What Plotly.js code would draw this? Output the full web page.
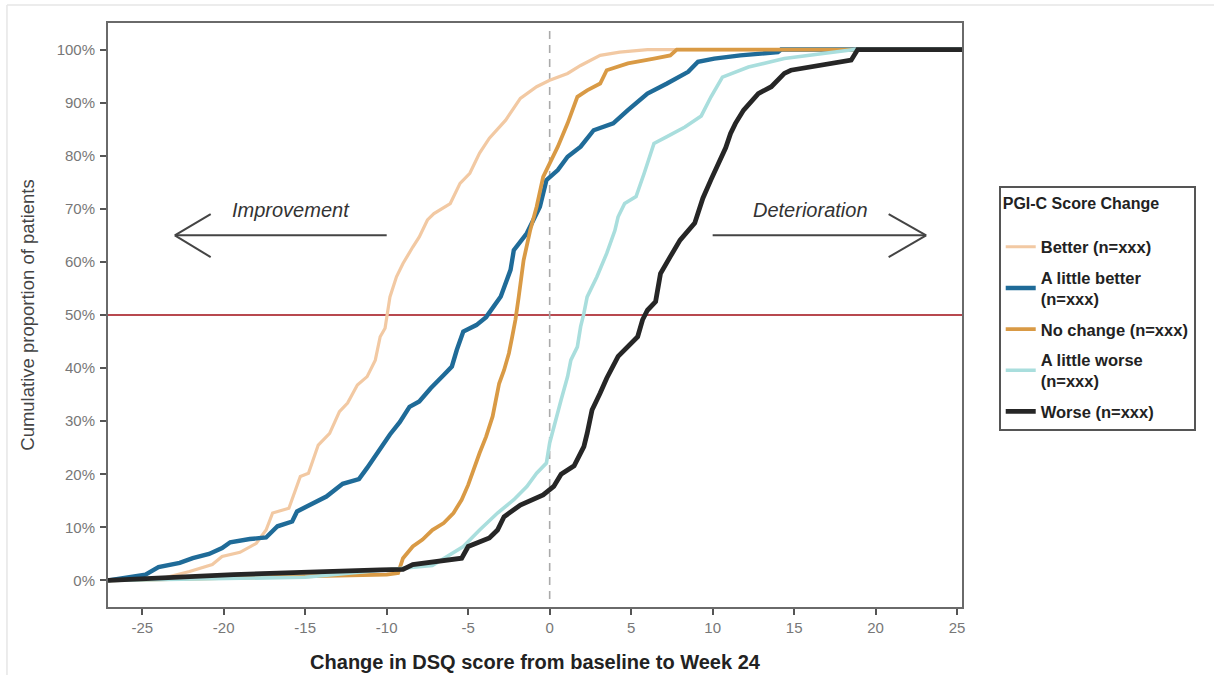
<!DOCTYPE html>
<html><head><meta charset="utf-8">
<script src="https://cdn.plot.ly/plotly-3.0.1.min.js"></script>
<style>html,body{margin:0;padding:0;background:#fff;} #chart{width:1214px;height:675px;}</style>
</head><body><div id="chart"></div>
<script>
// ---- data ----
const seriesNames = ["Better (n=xxx)", "A little better<br>(n=xxx)", "No change (n=xxx)", "A little worse<br>(n=xxx)", "Worse (n=xxx)"];

const betterX = [-27.1, -23.5, -22.1, -20.7, -20.1, -19.0, -18.0, -17.4, -17.0, -16.0, -15.3, -14.8, -14.2, -13.5, -12.9, -12.4, -11.8, -11.2, -10.7, -10.4, -10.1, -9.8, -9.4, -9.0, -8.4, -8.0, -7.5, -7.1, -6.1, -5.5, -4.9, -4.3, -3.7, -2.7, -1.8, -0.8, 0.0, 1.1, 1.9, 3.1, 4.3, 6.0, 25.3];
const betterY = [0, 0.6, 1.7, 3.0, 4.5, 5.3, 7.0, 9.5, 12.7, 13.6, 19.6, 20.2, 25.5, 27.7, 31.8, 33.4, 36.8, 38.4, 41.5, 45.9, 47.5, 53.4, 57.2, 59.7, 62.8, 64.7, 67.9, 69.1, 71.0, 74.8, 76.7, 80.5, 83.3, 86.7, 90.8, 93.0, 94.2, 95.5, 97.0, 98.9, 99.5, 100, 100];

const littleBetterX = [-27.1, -24.8, -24.0, -22.7, -21.9, -20.9, -20.1, -19.6, -18.4, -17.4, -16.7, -15.8, -15.5, -14.5, -13.7, -12.7, -11.7, -11.2, -10.6, -9.8, -9.2, -8.6, -8.0, -7.3, -6.5, -6.0, -5.7, -5.3, -4.5, -3.9, -3.0, -2.4, -2.2, -1.4, -1.0, -0.6, -0.2, 0.5, 1.1, 1.9, 2.7, 3.9, 4.8, 6.0, 7.2, 8.5, 9.1, 10.1, 11.7, 14.0, 14.2, 25.3];
const littleBetterY = [0, 1.1, 2.5, 3.3, 4.2, 5.0, 6.1, 7.2, 7.8, 8.1, 10.2, 11.1, 13.0, 14.6, 15.8, 18.2, 19.1, 21.2, 24.0, 27.5, 29.8, 32.7, 33.7, 36.2, 38.7, 40.3, 43.4, 46.9, 48.1, 49.6, 53.5, 58.5, 62.2, 65.4, 67.9, 70.4, 75.4, 77.3, 79.8, 81.7, 84.8, 86.1, 88.6, 91.7, 93.6, 95.8, 97.7, 98.3, 98.9, 99.5, 100, 100];

const noChangeX = [-27.1, -20.0, -10.0, -9.3, -9.0, -8.4, -7.8, -7.2, -6.5, -5.9, -5.4, -5.0, -4.7, -4.3, -3.9, -3.5, -3.3, -3.1, -2.8, -2.5, -2.3, -2.1, -1.9, -1.6, -1.2, -0.8, -0.4, 0.0, 0.5, 1.1, 1.7, 2.3, 3.1, 3.5, 4.8, 6.4, 7.4, 7.8, 25.3];
const noChangeY = [0, 0.4, 1.1, 1.4, 4.2, 6.4, 7.7, 9.5, 10.8, 12.7, 15.2, 18.0, 20.8, 24.0, 27.1, 30.9, 34.0, 37.1, 39.6, 42.8, 45.9, 49.1, 53.4, 60.3, 65.9, 70.4, 76.0, 78.5, 81.7, 86.1, 91.1, 92.3, 93.6, 96.1, 97.4, 98.3, 98.9, 100, 100];

const littleWorseX = [-27.1, -15.0, -7.2, -5.3, -4.3, -3.2, -2.2, -1.4, -0.8, -0.2, 0.0, 0.3, 0.7, 1.1, 1.3, 1.7, 1.9, 2.1, 2.3, 2.9, 3.5, 4.0, 4.2, 4.6, 5.3, 5.8, 6.4, 7.2, 8.3, 9.3, 9.9, 10.6, 12.2, 14.4, 16.9, 18.7, 25.3];
const littleWorseY = [0, 0.6, 2.8, 6.4, 9.5, 12.7, 15.2, 17.7, 20.2, 22.1, 25.9, 29.6, 34.0, 38.4, 41.5, 44.0, 47.8, 50.3, 53.4, 57.2, 61.6, 65.9, 68.5, 71.0, 72.3, 76.7, 82.3, 83.6, 85.4, 87.5, 91.1, 94.8, 96.7, 98.3, 99.2, 100, 100];

const worseX = [-27.1, -19.4, -10.4, -9.0, -8.4, -5.4, -5.0, -3.7, -3.2, -2.8, -1.8, -0.4, 0.25, 0.7, 1.5, 2.1, 2.3, 2.6, 3.1, 3.5, 4.2, 4.8, 5.4, 5.7, 6.0, 6.5, 6.8, 7.4, 8.0, 8.9, 9.4, 9.9, 10.4, 10.8, 11.1, 11.4, 11.9, 12.8, 13.6, 14.4, 14.8, 18.5, 18.9, 25.3];
const worseY = [0, 1.1, 2.0, 2.1, 3.0, 4.2, 6.4, 8.0, 9.5, 12.0, 14.2, 16.1, 17.7, 20.0, 21.6, 25.2, 27.7, 32.1, 35.3, 38.1, 42.2, 44.0, 45.9, 49.1, 50.9, 52.5, 57.8, 61.0, 64.1, 67.3, 72.0, 75.5, 79.0, 81.5, 84.2, 86.1, 88.6, 91.7, 93.0, 95.5, 96.1, 98.0, 100, 100];

const xTickVals = [-25, -20, -15, -10, -5, 0, 5, 10, 15, 20, 25];
const xTickText = ["-25", "-20", "-15", "-10", "-5", "0", "5", "10", "15", "20", "25"];
const yTickVals = [0, 10, 20, 30, 40, 50, 60, 70, 80, 90, 100];
const yTickText = ["0%", "10%", "20%", "30%", "40%", "50%", "60%", "70%", "80%", "90%", "100%"];

// ---- styles ----
const FONT = "'Liberation Sans', Arial, sans-serif";
const colors = ["#f2c9a3", "#1f6b98", "#d99a45", "#a9dedd", "#262626"];
const widths = [3.2, 4.4, 3.8, 3.6, 4.8];
const xs = [betterX, littleBetterX, noChangeX, littleWorseX, worseX];
const ys = [betterY, littleBetterY, noChangeY, littleWorseY, worseY];

const traces = seriesNames.map((n, i) => ({
  type: "scatter", mode: "lines", name: n, x: xs[i], y: ys[i],
  legendgroup: "g" + i,
  line: {color: colors[i], width: widths[i], shape: "linear"},
  hoverinfo: "x+y+name"
}));

const layout = {
  width: 1214, height: 675,
  margin: {l: 108, r: 252, t: 23, b: 68},
  paper_bgcolor: "#fff", plot_bgcolor: "#fff",
  font: {family: FONT, color: "#555"},
  showlegend: true,
  xaxis: {
    range: [-27.1, 25.3], tickmode: "array", tickvals: xTickVals, ticktext: xTickText,
    ticks: "outside", ticklen: 6, tickwidth: 1.5, tickcolor: "#555",
    showline: true, linecolor: "#6a6a6a", linewidth: 2, mirror: true,
    showgrid: false, zeroline: false,
    tickfont: {size: 15, color: "#777"},
    title: {text: "Change in DSQ score from baseline to Week 24", standoff: 20,
            font: {size: 20, color: "#222", weight: "bold"}}
  },
  yaxis: {
    range: [-5, 105], tickmode: "array", tickvals: yTickVals, ticktext: yTickText,
    ticks: "outside", ticklen: 6, tickwidth: 1.5, tickcolor: "#555",
    showline: true, linecolor: "#6a6a6a", linewidth: 2, mirror: true,
    showgrid: false, zeroline: false,
    tickfont: {size: 15, color: "#777"},
    ticklabelstandoff: 2,
    title: {text: "Cumulative proportion of patients", standoff: 17,
            font: {size: 18.5, color: "#444"}}
  },
  legend: {
    x: 1.043, xanchor: "left", y: 0.721, yanchor: "top",
    bordercolor: "#555", borderwidth: 2, bgcolor: "#fff",
    font: {size: 16.5, color: "#222", weight: "bold"},
    title: {text: "PGI-C Score Change<br> ", font: {size: 16, color: "#222", weight: "bold"}},
    tracegroupgap: 6, traceorder: "grouped", itemwidth: 30
  },
  shapes: [
    // outer light frame
    {type: "line", xref: "paper", yref: "paper", x0: -0.1183, x1: 1.3, y0: 1.0308, y1: 1.0308, line: {color: "#e6e6e6", width: 1.5}},
    {type: "line", xref: "paper", yref: "paper", x0: -0.1183, x1: -0.1183, y0: 1.0308, y1: -0.12, line: {color: "#e6e6e6", width: 1.5}},
    // reference lines
    {type: "line", xref: "x", yref: "y", x0: 0, x1: 0, y0: -3.5, y1: 103.5, line: {color: "#aaaaaa", width: 1.6, dash: "8px,6px"}, layer: "below"},
    {type: "line", xref: "paper", yref: "y", x0: 0, x1: 1, y0: 50, y1: 50, line: {color: "#b8484f", width: 2}, layer: "below"},
    // improvement arrow
    {type: "line", xref: "x", yref: "y", x0: -10.0, x1: -23.0, y0: 65, y1: 65, line: {color: "#444", width: 2}},
    {type: "line", xref: "x", yref: "y", x0: -23.0, x1: -20.8, y0: 65, y1: 69, line: {color: "#444", width: 2}},
    {type: "line", xref: "x", yref: "y", x0: -23.0, x1: -20.8, y0: 65, y1: 60.9, line: {color: "#444", width: 2}},
    // deterioration arrow
    {type: "line", xref: "x", yref: "y", x0: 10.0, x1: 23.1, y0: 65, y1: 65, line: {color: "#444", width: 2}},
    {type: "line", xref: "x", yref: "y", x0: 23.1, x1: 20.8, y0: 65, y1: 69, line: {color: "#444", width: 2}},
    {type: "line", xref: "x", yref: "y", x0: 23.1, x1: 20.8, y0: 65, y1: 60.9, line: {color: "#444", width: 2}}
  ],
  annotations: [
    {xref: "x", yref: "y", x: -15.9, y: 69.8, text: "Improvement", showarrow: false,
     font: {size: 20, color: "#333", style: "italic"}},
    {xref: "x", yref: "y", x: 16.0, y: 69.8, text: "Deterioration", showarrow: false,
     font: {size: 20, color: "#333", style: "italic"}}
  ]
};

Plotly.newPlot("chart", traces, layout, {displayModeBar: false, responsive: false});
</script></body></html>
